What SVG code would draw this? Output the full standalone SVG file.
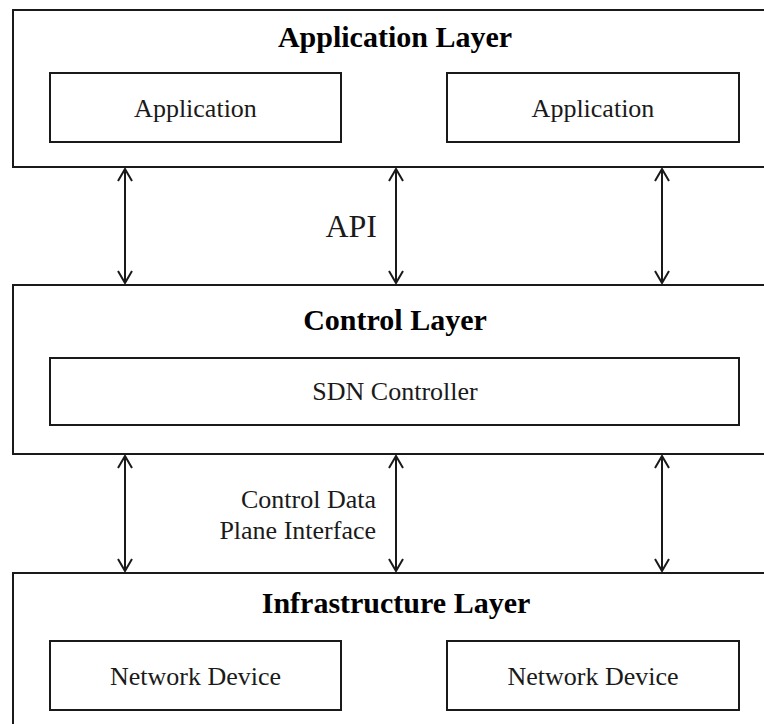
<svg xmlns="http://www.w3.org/2000/svg" width="764" height="724" viewBox="0 0 764 724">
<defs>
<style>
.box{fill:#fff;stroke:#1a1a1a;stroke-width:2}
.title{font-family:"Liberation Serif","Times New Roman",serif;font-weight:bold;font-size:30px;fill:#000;text-anchor:middle}
.lbl{font-family:"Liberation Serif","Times New Roman",serif;font-size:26px;fill:#1a1a1a;text-anchor:middle}
.side{font-family:"Liberation Serif","Times New Roman",serif;font-size:26px;fill:#1a1a1a;text-anchor:end}
.conn{stroke:#1a1a1a;stroke-width:2;fill:none;marker-start:url(#ah);marker-end:url(#ah)}
</style>
<marker id="ah" viewBox="-14 -9 16 18" refX="0" refY="0" markerWidth="16" markerHeight="18" markerUnits="userSpaceOnUse" orient="auto-start-reverse">
<path d="M-12,-7 L0,0 L-12,7" fill="none" stroke="#1a1a1a" stroke-width="2"/>
</marker>
</defs>
<rect width="764" height="724" fill="#fff"/>
<g id="application-layer">
<rect class="box" x="13" y="10" width="780" height="157"/>
<text class="title" x="395" y="47">Application Layer</text>
</g>
<g id="app1">
<rect class="box" x="50" y="73" width="291" height="69"/>
<text class="lbl" x="195.5" y="117">Application</text>
</g>
<g id="app2">
<rect class="box" x="447" y="73" width="292" height="69"/>
<text class="lbl" x="593" y="117">Application</text>
</g>
<g id="control-layer">
<rect class="box" x="13" y="285" width="780" height="169"/>
<text class="title" x="395" y="330">Control Layer</text>
</g>
<g id="sdn-controller">
<rect class="box" x="50" y="358" width="689" height="67"/>
<text class="lbl" x="395" y="400">SDN Controller</text>
</g>
<g id="infrastructure-layer">
<rect class="box" x="13" y="573" width="780" height="170"/>
<text class="title" x="396" y="613">Infrastructure Layer</text>
</g>
<g id="device1">
<rect class="box" x="50" y="641" width="291" height="69"/>
<text class="lbl" x="195.5" y="685">Network Device</text>
</g>
<g id="device2">
<rect class="box" x="447" y="641" width="292" height="69"/>
<text class="lbl" x="593" y="685">Network Device</text>
</g>
<g id="connectors">
<line class="conn" x1="125" y1="169" x2="125" y2="283"/>
<line class="conn" x1="396" y1="169" x2="396" y2="283"/>
<line class="conn" x1="662" y1="169" x2="662" y2="283"/>
<line class="conn" x1="125" y1="456" x2="125" y2="571"/>
<line class="conn" x1="396" y1="456" x2="396" y2="571"/>
<line class="conn" x1="662" y1="456" x2="662" y2="571"/>
<text class="side" x="377" y="237" style="font-size:32px">API</text>
<text class="side" x="376" y="508">Control Data</text>
<text class="side" x="376" y="539">Plane Interface</text>
</g>
</svg>
